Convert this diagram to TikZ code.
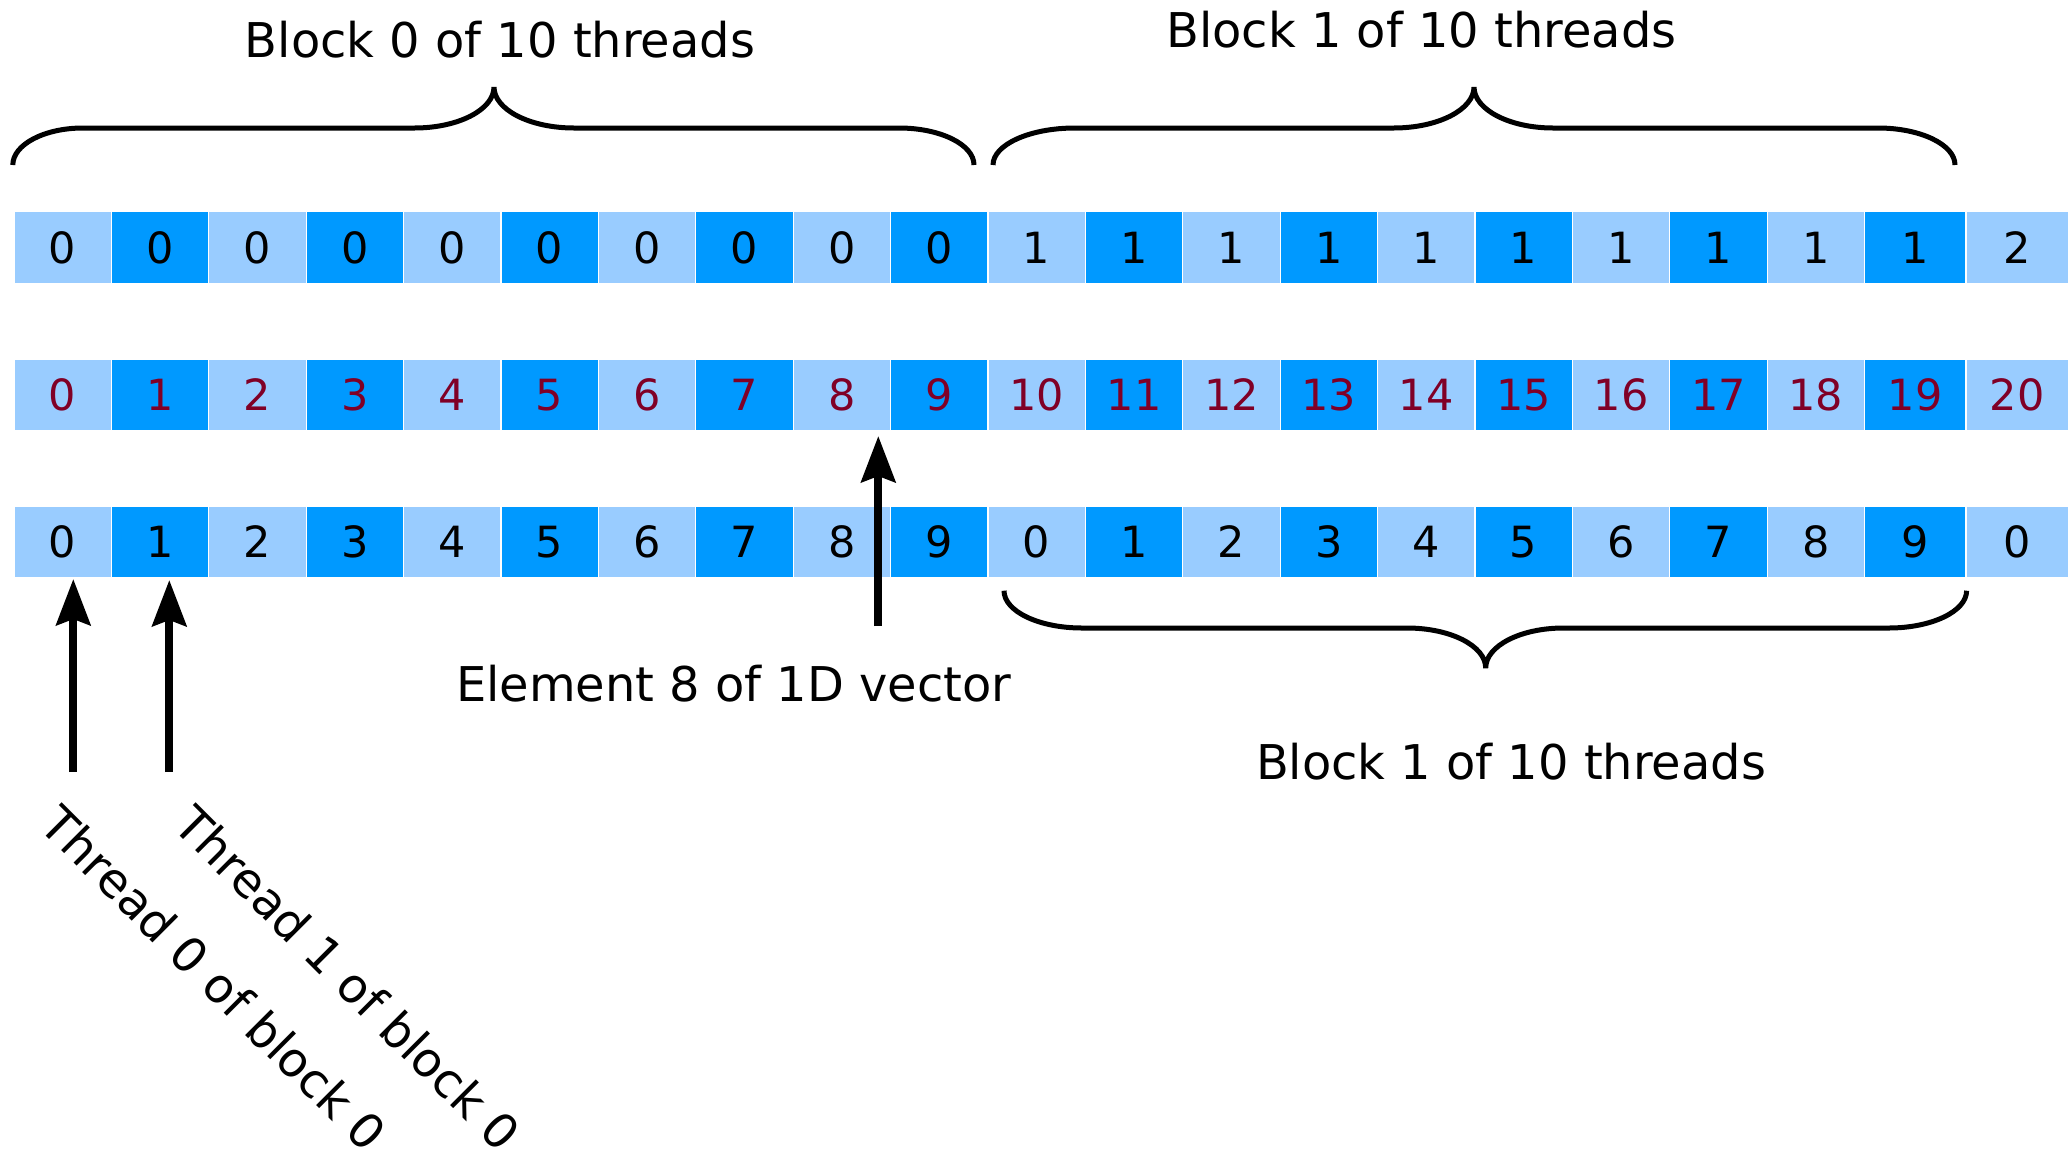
\documentclass[tikz,border=0pt]{standalone}
\usepackage{fontspec}
\setmainfont{DejaVu Sans}
\usetikzlibrary{arrows.meta}
\definecolor{lightcell}{HTML}{99CCFF}
\definecolor{darkcell}{HTML}{0099FF}
\definecolor{idxred}{RGB}{128,0,38}
\tikzset{
  cellbox/.style={draw=white, line width=1.3pt, inner sep=0pt, minimum height=72pt, anchor=west,
    font=\fontsize{43}{50}\selectfont},
  lbl/.style={inner sep=0pt, font=\fontsize{47.9}{56}\selectfont},
  bracepath/.style={line width=5pt},
  arr/.style={line width=8pt, -{Stealth[length=46pt,width=34pt,inset=6pt]}}
}
\begin{document}
\begin{tikzpicture}[x=1pt,y=-1pt]
\useasboundingbox (0,0) rectangle (2069,1152);
% cells
\foreach \i in {0,...,20}{
  \pgfmathsetmacro\cellleft{13.3+97.4*\i}
  \def\cellwd{97.4}
  \ifnum\i=19 \def\cellwd{101.3}\fi
  \ifnum\i=20 \def\cellleft{1965.2}\def\cellwd{102.8}\fi
  \pgfmathtruncatemacro\blkno{\i/10}
  \pgfmathtruncatemacro\thrno{mod(\i,10)}
  \pgfmathtruncatemacro\parity{mod(\i,2)}
  \ifnum\parity=0 \def\cellcol{lightcell}\else\def\cellcol{darkcell}\fi
  \node[cellbox, fill=\cellcol, minimum width=\cellwd pt] (ra\i) at (\cellleft,247.7) {\blkno};
  \node[cellbox, fill=\cellcol, minimum width=\cellwd pt, text=idxred] (rb\i) at (\cellleft,395) {\i};
  \node[cellbox, fill=\cellcol, minimum width=\cellwd pt] (rc\i) at (\cellleft,542) {\thrno};
}
% braces
\draw[bracepath] (12.8,165) .. controls (12.8,144.6) and (44.2,128) .. (83,128) -- (414.5,128)
  .. controls (458.4,128) and (494,109.6) .. (494,87)
  .. controls (494,109.6) and (529.8,128) .. (574,128) -- (899,128)
  .. controls (940.4,128) and (974,144.6) .. (974,165);
\draw[bracepath] (993,165) .. controls (993,144.6) and (1029.7,128) .. (1075,128) -- (1393.7,128)
  .. controls (1438,128) and (1474,109.6) .. (1474,87)
  .. controls (1474,109.6) and (1509.4,128) .. (1553,128) -- (1878,128)
  .. controls (1920.5,128) and (1955,144.6) .. (1955,165);
\draw[bracepath] (1004,590.7) .. controls (1004,611.3) and (1038.9,628) .. (1082,628) -- (1407,628)
  .. controls (1450.4,628) and (1485.7,645.9) .. (1485.7,668)
  .. controls (1485.7,645.9) and (1520.6,628) .. (1563.5,628) -- (1888.8,628)
  .. controls (1931.7,628) and (1966.6,611.3) .. (1966.6,590.7);
% labels
\node[lbl, anchor=base] (t0) at (500,57) {Block 0 of 10 threads};
\node[lbl, anchor=base] (t1) at (1421.5,47) {Block 1 of 10 threads};
\node[lbl, anchor=base] (el) at (733.6,701) {Element 8 of 1D vector};
\node[lbl, anchor=base] (b1) at (1511,779) {Block 1 of 10 threads};
\node[lbl, rotate=-45] (th0) at (214,978) {Thread 0 of block 0};
\node[lbl, rotate=-45] (th1) at (348,978) {Thread 1 of block 0};
% arrows
\coordinate (e0) at (878.3,626); \coordinate (e1) at (878.3,436);
\coordinate (a0) at (73.3,772);  \coordinate (a1) at (73.3,579);
\coordinate (c0) at (169.3,772); \coordinate (c1) at (169.3,580);
\draw[arr] (e0) -- (e1);
\draw[arr] (a0) -- (a1);
\draw[arr] (c0) -- (c1);
\end{tikzpicture}
\end{document}
